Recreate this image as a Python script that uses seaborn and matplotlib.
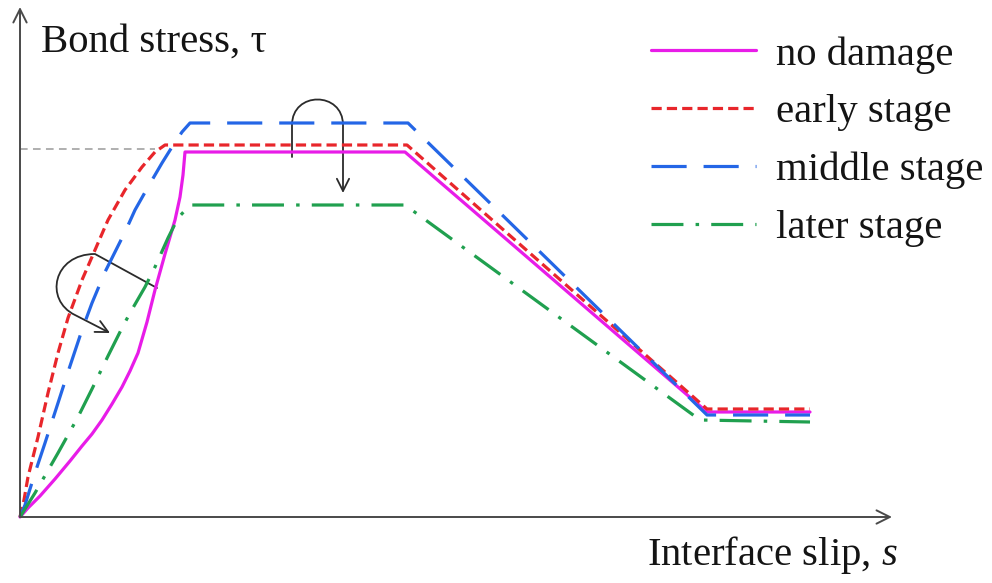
import numpy as np
import pandas as pd
import seaborn as sns
import matplotlib
matplotlib.use("Agg")
import matplotlib.pyplot as plt
from matplotlib.path import Path
from matplotlib.patches import FancyArrowPatch

labels = ["no damage", "early stage", "middle stage", "later stage"]

s_none = [0.00, 0.08, 0.20, 0.35, 0.50, 0.62, 0.72, 0.82, 0.92, 1.02, 1.10, 1.18,
          1.27, 1.35, 1.45, 1.55, 1.60, 1.63, 1.65, 3.85, 6.87, 7.90]
t_none = [0.00, 0.09, 0.21, 0.38, 0.56, 0.71, 0.83, 0.97, 1.13, 1.30, 1.46, 1.64,
          1.95, 2.27, 2.63, 2.97, 3.20, 3.42, 3.65, 3.65, 1.05, 1.05]

s_early = [0.00, 0.04, 0.08, 0.13, 0.18, 0.28, 0.38, 0.48, 0.62, 0.75, 0.88, 1.05,
           1.22, 1.35, 1.45, 3.87, 6.87, 7.90]
t_early = [0.00, 0.17, 0.40, 0.60, 0.80, 1.24, 1.64, 1.99, 2.37, 2.67, 2.97, 3.27,
           3.50, 3.65, 3.72, 3.72, 1.08, 1.08]

s_middle = [0.00, 0.05, 0.15, 0.25, 0.38, 0.48, 0.62, 0.72, 0.85, 0.95, 1.05, 1.15,
            1.28, 1.42, 1.52, 1.62, 1.70, 3.88, 6.87, 7.90]
t_middle = [0.00, 0.12, 0.44, 0.74, 1.14, 1.45, 1.87, 2.14, 2.45, 2.65, 2.85, 3.07,
            3.30, 3.54, 3.70, 3.85, 3.94, 3.94, 1.02, 1.02]

s_later = [0.00, 0.15, 0.38, 0.58, 0.72, 0.88, 1.02, 1.10, 1.25, 1.35, 1.48, 1.58,
           1.70, 3.85, 6.80, 7.90]
t_later = [0.00, 0.24, 0.64, 1.00, 1.28, 1.61, 1.89, 2.04, 2.30, 2.50, 2.79, 2.99,
           3.12, 3.12, 0.97, 0.95]

peak_level = 3.68
peak_s = 1.35

# ---- style ----
sns.set_theme(style="white")
plt.rcParams["font.family"] = ["Liberation Serif", "DejaVu Serif"]
plt.rcParams["mathtext.fontset"] = "custom"
plt.rcParams["mathtext.rm"] = "Liberation Serif"
plt.rcParams["mathtext.it"] = "Liberation Serif:italic"

fig = plt.figure(figsize=(9.92, 5.83), dpi=100)
ax = fig.add_axes([0, 0, 1, 1])
ax.set_xlim(-0.20, 9.72)
ax.set_ylim(-0.66, 5.17)
ax.set_axis_off()

lw = 2.3
series = [
    (s_none, t_none, "#E81CE8", dict(linestyle="-")),
    (s_early, t_early, "#E8262B", dict(dashes=(3.2, 1.6))),
    (s_middle, t_middle, "#2466E6", dict(dashes=(11.0, 5.3))),
    (s_later, t_later, "#20A04F", dict(dashes=(10.0, 3.8, 1.1, 3.8))),
]
for (sx, ty, col, ls), lab in zip(series, labels):
    sns.lineplot(x=sx, y=ty, color=col, lw=lw, sort=False, estimator=None,
                 label=lab, ax=ax, solid_joinstyle="round", **ls)

# reference dashed line at peak
sns.lineplot(x=[0, peak_s], y=[peak_level, peak_level], color="#9a9a9a", lw=1.1,
             dashes=(5, 3.5), sort=False, estimator=None, ax=ax, legend=False)

# axes arrows
axis_kw = dict(arrowstyle="->", color="#4a4a4a", lw=1.4, mutation_scale=24,
               shrinkA=0, shrinkB=0)
ax.annotate("", xy=(8.72, 0), xytext=(0, 0), arrowprops=axis_kw)
ax.annotate("", xy=(0, 5.10), xytext=(0, 0), arrowprops=axis_kw)

fs = 29.3
ax.text(0.21, 4.65, "Bond stress, τ", fontsize=fs, ha="left", va="baseline",
        color="#141414")
ax.text(8.78, -0.48, "Interface slip, $s$", fontsize=fs, ha="right",
        va="baseline", color="#141414")

# curved arrows (annotations)
top_path = Path([(2.72, 3.60), (2.72, 3.92), (2.72, 4.26), (3.23, 4.26),
                 (3.23, 3.92), (3.23, 3.24)],
                [Path.MOVETO, Path.LINETO, Path.CURVE4, Path.CURVE4,
                 Path.CURVE4, Path.LINETO])
left_path = Path([(1.37, 2.29), (0.75, 2.63), (0.33, 2.63), (0.24, 2.17),
                  (0.55, 2.02), (0.90, 1.84)],
                 [Path.MOVETO, Path.LINETO, Path.CURVE4, Path.CURVE4,
                  Path.CURVE4, Path.LINETO])
for p in (top_path, left_path):
    ax.add_patch(FancyArrowPatch(path=p, arrowstyle="->", color="#2b2b2b",
                                 lw=1.3, mutation_scale=22))

handles, labs = ax.get_legend_handles_labels()
ax.legend(handles[:4], labs[:4], loc="upper left",
          bbox_to_anchor=(651 / 992, 1 - 36 / 583), bbox_transform=fig.transFigure,
          frameon=False, fontsize=fs, handlelength=2.58, handletextpad=0.5,
          labelspacing=0.5, borderpad=0, borderaxespad=0, labelcolor="#141414")

fig.savefig("out.png", dpi=100)
